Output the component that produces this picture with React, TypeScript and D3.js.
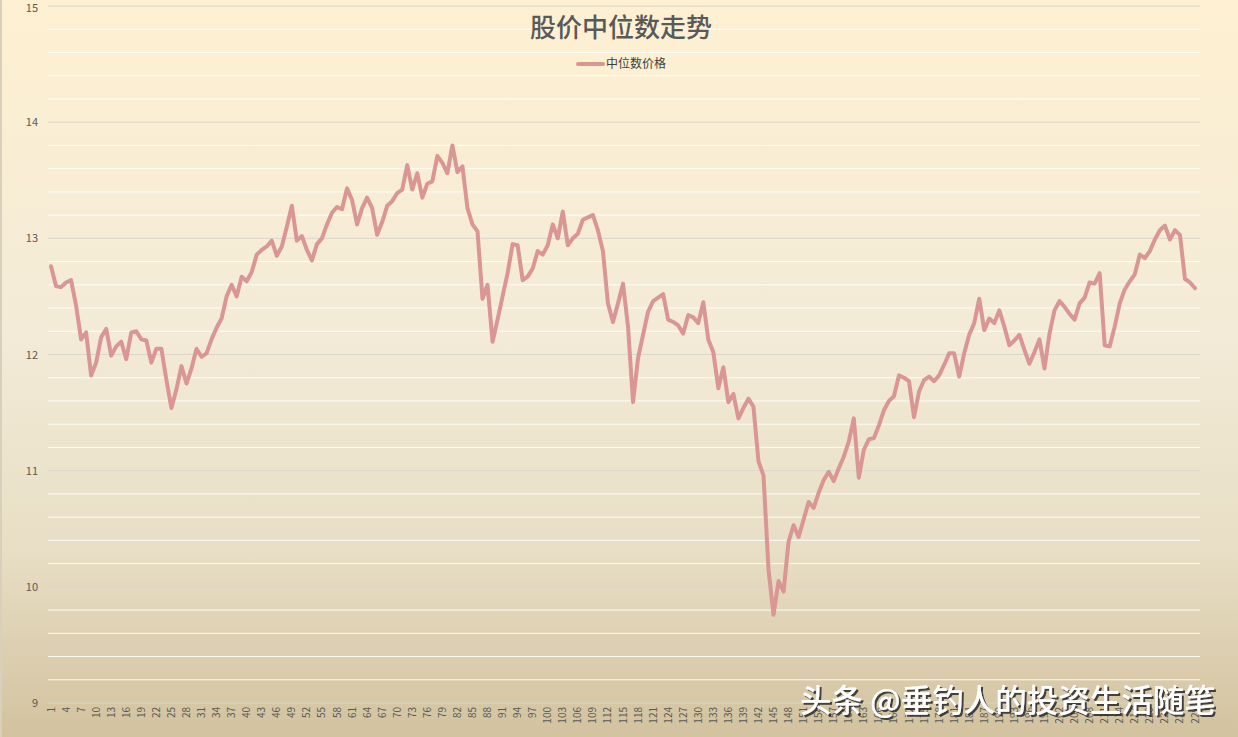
import React from "react";
import * as d3 from "d3";

const title = "股价中位数走势";
const seriesName = "中位数价格";
const watermark = "头条 @垂钓人的投资生活随笔";

const values: number[] = [
  12.76, 12.59, 12.58, 12.62, 12.64, 12.42, 12.13, 12.19, 11.82, 11.93,
  12.15, 12.22, 11.99, 12.07, 12.11, 11.96, 12.19, 12.2, 12.13, 12.12,
  11.93, 12.05, 12.05, 11.78, 11.54, 11.7, 11.9, 11.75, 11.88, 12.05,
  11.98, 12.01, 12.13, 12.23, 12.31, 12.5, 12.6, 12.5, 12.67, 12.63,
  12.71, 12.86, 12.9, 12.93, 12.98, 12.85, 12.93, 13.1, 13.28, 12.98,
  13.02, 12.9, 12.81, 12.95, 13.0, 13.12, 13.22, 13.27, 13.25, 13.43,
  13.33, 13.12, 13.26, 13.35, 13.26, 13.03, 13.14, 13.28, 13.32, 13.39,
  13.42, 13.63, 13.42, 13.56, 13.35, 13.47, 13.49, 13.71, 13.65, 13.56,
  13.8, 13.57, 13.62, 13.26, 13.12, 13.06, 12.48, 12.6, 12.11, 12.3,
  12.5, 12.7, 12.95, 12.94, 12.64, 12.67, 12.74, 12.89, 12.86, 12.94,
  13.12, 13.0, 13.23, 12.94, 13.0, 13.04, 13.16, 13.18, 13.2, 13.07,
  12.89, 12.44, 12.28, 12.44, 12.61, 12.24, 11.59, 11.97, 12.17, 12.37,
  12.46, 12.49, 12.52, 12.3, 12.28, 12.25, 12.18, 12.34, 12.32, 12.27,
  12.45, 12.13, 12.02, 11.71, 11.89, 11.59, 11.66, 11.45, 11.54, 11.62,
  11.55, 11.08, 10.96, 10.15, 9.76, 10.05, 9.96, 10.39, 10.53, 10.43,
  10.58, 10.73, 10.68, 10.81, 10.92, 10.99, 10.91, 11.02, 11.12, 11.25,
  11.45, 10.94, 11.18, 11.27, 11.28, 11.39, 11.52, 11.6, 11.64, 11.82,
  11.8, 11.77, 11.46, 11.68, 11.78, 11.81, 11.77, 11.82, 11.91, 12.01,
  12.01, 11.81, 12.01, 12.17, 12.27, 12.48, 12.21, 12.31, 12.27, 12.38,
  12.24, 12.08, 12.12, 12.17, 12.04, 11.92, 12.02, 12.13, 11.88, 12.18,
  12.38, 12.46, 12.41, 12.35, 12.3, 12.44, 12.49, 12.62, 12.61, 12.7,
  12.08, 12.07, 12.24, 12.44, 12.56, 12.63, 12.69, 12.86, 12.83, 12.89,
  12.99, 13.07, 13.11, 12.99, 13.07, 13.03, 12.65, 12.62, 12.57,
];

const categories: number[] = values.map((_, i) => i + 1);
const xTickLabels: number[] = categories.filter((c) => (c - 1) % 3 === 0);
const yTicks: number[] = [9, 10, 11, 12, 13, 14, 15];
const yMinorTicks: number[] = d3.range(9, 15.0001, 0.2).filter(
  (v) => Math.abs(v - Math.round(v)) > 0.01
);

const W = 1238;
const H = 737;

export default function App() {
  const x = d3.scalePoint<number>().domain(categories).range([51, 1195]);
  const y = d3.scaleLinear().domain([9, 15]).range([703, 6]);
  const line = d3
    .line<number>()
    .x((_, i) => x(categories[i]) as number)
    .y((d) => y(d));
  const gx0 = 48;
  const gx1 = 1200;

  return (
    <svg
      width={W}
      height={H}
      style={{ position: "absolute", left: 0, top: 0, display: "block" }}
      fontFamily="'Noto Sans CJK SC', 'Noto Sans', sans-serif"
    >
      <defs>
        <linearGradient id="bg" x1="0" y1="0" x2="0" y2="1">
          <stop offset="0" stopColor="#FEF0D1" />
          <stop offset="0.45" stopColor="#F3EBD7" />
          <stop offset="0.75" stopColor="#E8DEC5" />
          <stop offset="1" stopColor="#D2C29E" />
        </linearGradient>
        <filter id="shadow" x="-5%" y="-20%" width="110%" height="150%">
          <feDropShadow dx="2" dy="2" stdDeviation="0.6" floodColor="#333" floodOpacity="0.9" />
        </filter>
      </defs>
      <rect x={0} y={0} width={W} height={H} fill="url(#bg)" />
      <line x1={1} x2={1} y1={0} y2={H} stroke="#D8D0BC" strokeWidth={2} />

      {/* minor gridlines */}
      {yMinorTicks.map((v) => (
        <line key={"m" + v} x1={gx0} x2={gx1} y1={y(v)} y2={y(v)} stroke="#FFFFFF" strokeWidth={1} opacity={0.9} />
      ))}
      {/* major gridlines */}
      {yTicks.map((v) => (
        <line key={"g" + v} x1={gx0} x2={gx1} y1={y(v)} y2={y(v)} stroke="#D9D5CB" strokeWidth={1} />
      ))}

      {/* y tick labels */}
      {yTicks.map((v) => (
        <text
          key={"yl" + v}
          x={38}
          y={Math.max(y(v) + 4, 12)}
          textAnchor="end"
          fontSize={11}
          fill="#595959"
        >
          {v}
        </text>
      ))}

      {/* x tick labels */}
      {xTickLabels.map((c) => (
        <text
          key={"xl" + c}
          transform={`translate(${(x(c) as number) + 3.5},707) rotate(-90)`}
          textAnchor="end"
          fontSize={10}
          fill="#595959"
        >
          {c}
        </text>
      ))}

      {/* series line */}
      <path
        d={line(values) || ""}
        fill="none"
        stroke="#D99694"
        strokeWidth={4}
        strokeLinejoin="round"
        strokeLinecap="round"
      />

      {/* title */}
      <text x={621} y={37} textAnchor="middle" fontSize={26} fontWeight={500} fill="#595959">
        {title}
      </text>

      {/* legend */}
      <line x1={578} x2={603} y1={64} y2={64} stroke="#D99694" strokeWidth={4} strokeLinecap="round" />
      <text x={606} y={64} dy="0.35em" fontSize={12} fill="#404040">
        {seriesName}
      </text>

      {/* watermark */}
      <text x={800} y={712} fontSize={31.5} fontWeight={500} fill="#FFFFFF" filter="url(#shadow)">
        {watermark}
      </text>
    </svg>
  );
}
